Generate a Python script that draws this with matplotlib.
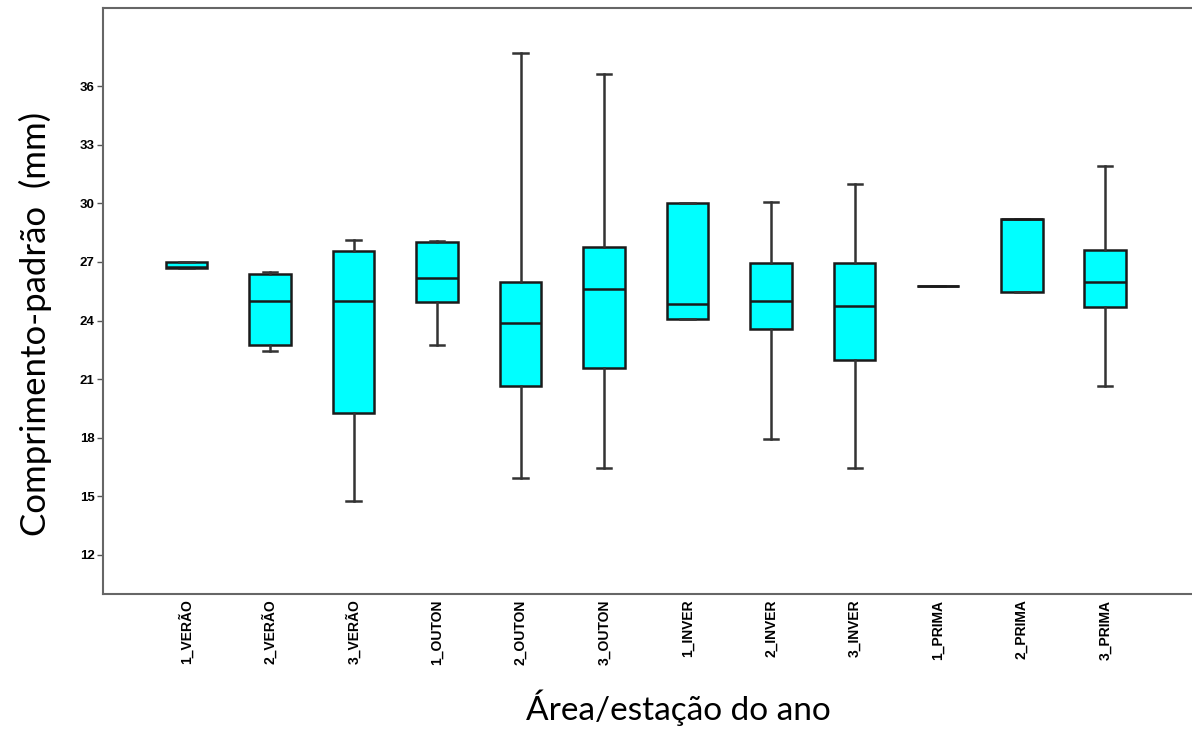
import matplotlib
matplotlib.use("Agg")
import matplotlib.pyplot as plt

# group labels as they show under the axis
labels = ["1_VERÃO", "2_VERÃO", "3_VERÃO", "1_OUTON", "2_OUTON", "3_OUTON",
          "1_INVER", "2_INVER", "3_INVER", "1_PRIMA", "2_PRIMA", "3_PRIMA"]

# box stats (mm)
whis_lo = [26.70, 22.46, 14.75, 22.77, 15.93, 16.45, 24.09, 17.96, 16.45, 25.77, 25.46, 20.64]
q1      = [26.70, 22.75, 19.28, 24.97, 20.65, 21.55, 24.09, 23.57, 21.98, 25.77, 25.46, 24.69]
median  = [26.75, 24.98, 25.00, 26.17, 23.86, 25.60, 24.86, 24.98, 24.77, 25.77, 29.19, 25.97]
q3      = [27.00, 26.39, 27.57, 28.00, 25.96, 27.78, 30.00, 26.95, 26.95, 25.77, 29.19, 27.60]
whis_hi = [27.00, 26.47, 28.10, 28.09, 37.72, 36.62, 30.00, 30.08, 31.00, 25.77, 29.19, 31.92]

stats = []
for i in range(len(labels)):
    stats.append({"label": labels[i], "whislo": whis_lo[i], "q1": q1[i],
                  "med": median[i], "q3": q3[i], "whishi": whis_hi[i], "fliers": []})

fig = plt.figure(figsize=(11.92, 7.31), dpi=100)
ax = fig.add_axes([0.0864, 0.1874, 0.9136, 0.8016])

pos = list(range(1, len(labels) + 1))
ax.bxp(stats, positions=pos, widths=0.5, patch_artist=True, showfliers=False,
       boxprops=dict(facecolor="#00FFFF", edgecolor="#1a1a1a", linewidth=1.8),
       medianprops=dict(color="#1a1a1a", linewidth=1.8),
       whiskerprops=dict(color="#333333", linewidth=1.8),
       capprops=dict(color="#333333", linewidth=1.8),
       capwidths=0.17)

ax.set_xlim(0, 13.04)
ax.set_ylim(10, 40)
ax.set_yticks([12, 15, 18, 21, 24, 27, 30, 33, 36])
ax.set_xticks(pos)
ax.set_xticklabels(labels, rotation=90, fontsize=10, fontweight="bold",
                   family="Liberation Sans", va="top")
for t in ax.get_yticklabels():
    t.set_fontsize(9.5)
    t.set_fontweight("bold")
    t.set_family("Liberation Sans")
ax.tick_params(axis="y", length=4, width=1, color="#555555", pad=2)
ax.tick_params(axis="x", length=0, pad=4)

for s in ["left", "bottom", "top"]:
    ax.spines[s].set_color("#666666")
    ax.spines[s].set_linewidth(1.5)
ax.spines["right"].set_visible(False)

fig.text(0.030, 0.557, "Comprimento-padrão  (mm)", rotation=90, fontsize=25,
         family="Lato", ha="center", va="center")
fig.text(0.569, 0.032, "Área/estação do ano", fontsize=24,
         family="Lato", ha="center", va="center")

fig.savefig("out.png", dpi=100)
